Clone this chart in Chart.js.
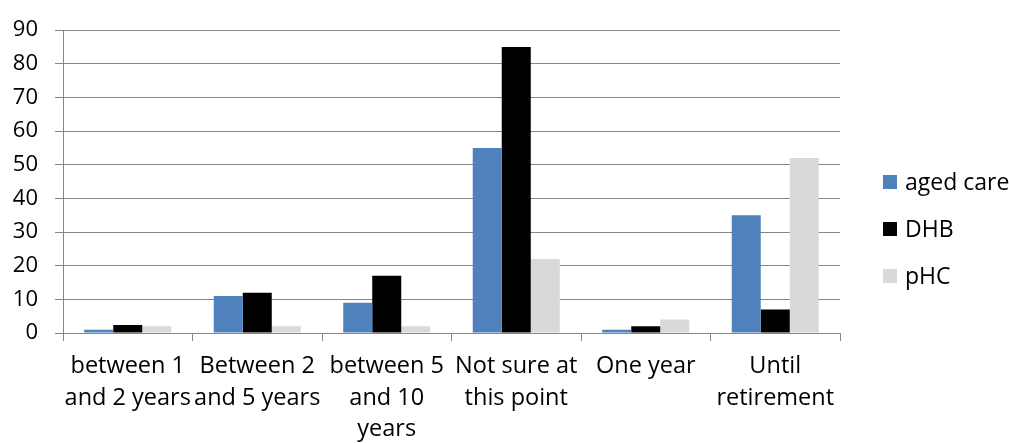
<!DOCTYPE html>
<html>
<head>
<meta charset="utf-8">
<script src="https://cdn.jsdelivr.net/npm/chart.js@4/dist/chart.umd.min.js"></script>
<style>
  html, body { margin: 0; padding: 0; background: #ffffff; }
  #wrap { width: 1009px; height: 443px; position: relative; }
</style>
</head>
<body>
<div id="wrap"><canvas id="c"></canvas></div>
<script>
// Categories (multi-line labels as drawn under the axis)
const categories = [
  ['between 1', 'and 2 years'],
  ['Between 2', 'and 5 years'],
  ['between 5', 'and 10', 'years'],
  ['Not sure at', 'this point'],
  ['One year'],
  ['Until', 'retirement']
];

// Series values
const agedCare = [1, 11, 9, 55, 1, 35];
const dhb      = [2.4, 12, 17, 85, 2, 7];
const phc      = [2, 2, 2, 22, 4, 52];

// Series names
const seriesNames = ['aged care', 'DHB', 'pHC'];

// Y axis ticks
const yMin = 0, yMax = 90, yStep = 10;

const FONT = '"Open Sans", "Noto Sans", sans-serif';
const GRID = '#868686';

// Legend drawn to the right of the plot, stacked vertically
const sideLegend = {
  id: 'sideLegend',
  afterDraw(chart) {
    const ctx = chart.ctx;
    const ds = chart.data.datasets;
    const x0 = 883, box = 14, gap = 8;
    const rows = [182, 229, 276];
    ctx.save();
    ctx.font = '23px ' + FONT;
    ctx.textBaseline = 'middle';
    ctx.textAlign = 'left';
    ds.forEach((d, i) => {
      const cy = rows[i];
      ctx.fillStyle = d.backgroundColor;
      ctx.fillRect(x0, cy - box / 2, box, box);
      ctx.fillStyle = '#000000';
      ctx.fillText(d.label, x0 + box + gap, cy + 1);
    });
    ctx.restore();
  }
};

new Chart(document.getElementById('c'), {
  type: 'bar',
  data: {
    labels: categories,
    datasets: [
      { label: seriesNames[0], data: agedCare, backgroundColor: '#4F81BD' },
      { label: seriesNames[1], data: dhb,      backgroundColor: '#000000' },
      { label: seriesNames[2], data: phc,      backgroundColor: '#D9D9D9' }
    ]
  },
  options: {
    responsive: true,
    maintainAspectRatio: false,
    animation: false,
    devicePixelRatio: 1,
    layout: { padding: { top: 22, right: 169, left: 0, bottom: 0 } },
    datasets: { bar: { categoryPercentage: 0.672, barPercentage: 1.0 } },
    plugins: {
      legend: { display: false },
      tooltip: { enabled: false }
    },
    scales: {
      x: {
        grid: {
          offset: true,
          drawOnChartArea: false,
          drawTicks: true,
          tickLength: 8,
          color: GRID,
          lineWidth: 1
        },
        border: { display: true, color: GRID, width: 1 },
        ticks: {
          color: '#000000',
          padding: 10,
          maxRotation: 0,
          autoSkip: false,
          font: { family: FONT, size: 23.5, lineHeight: 1.34 }
        },
        afterFit(scale) { scale.height = 110; }
      },
      y: {
        min: yMin,
        max: yMax,
        grid: {
          drawTicks: true,
          tickLength: 8,
          color: GRID,
          lineWidth: 1
        },
        border: { display: true, color: GRID, width: 1 },
        ticks: {
          stepSize: yStep,
          color: '#000000',
          padding: 17,
          font: { family: FONT, size: 22 }
        },
        afterFit(scale) { scale.width = 63; }
      }
    }
  },
  plugins: [sideLegend]
});
</script>
</body>
</html>
